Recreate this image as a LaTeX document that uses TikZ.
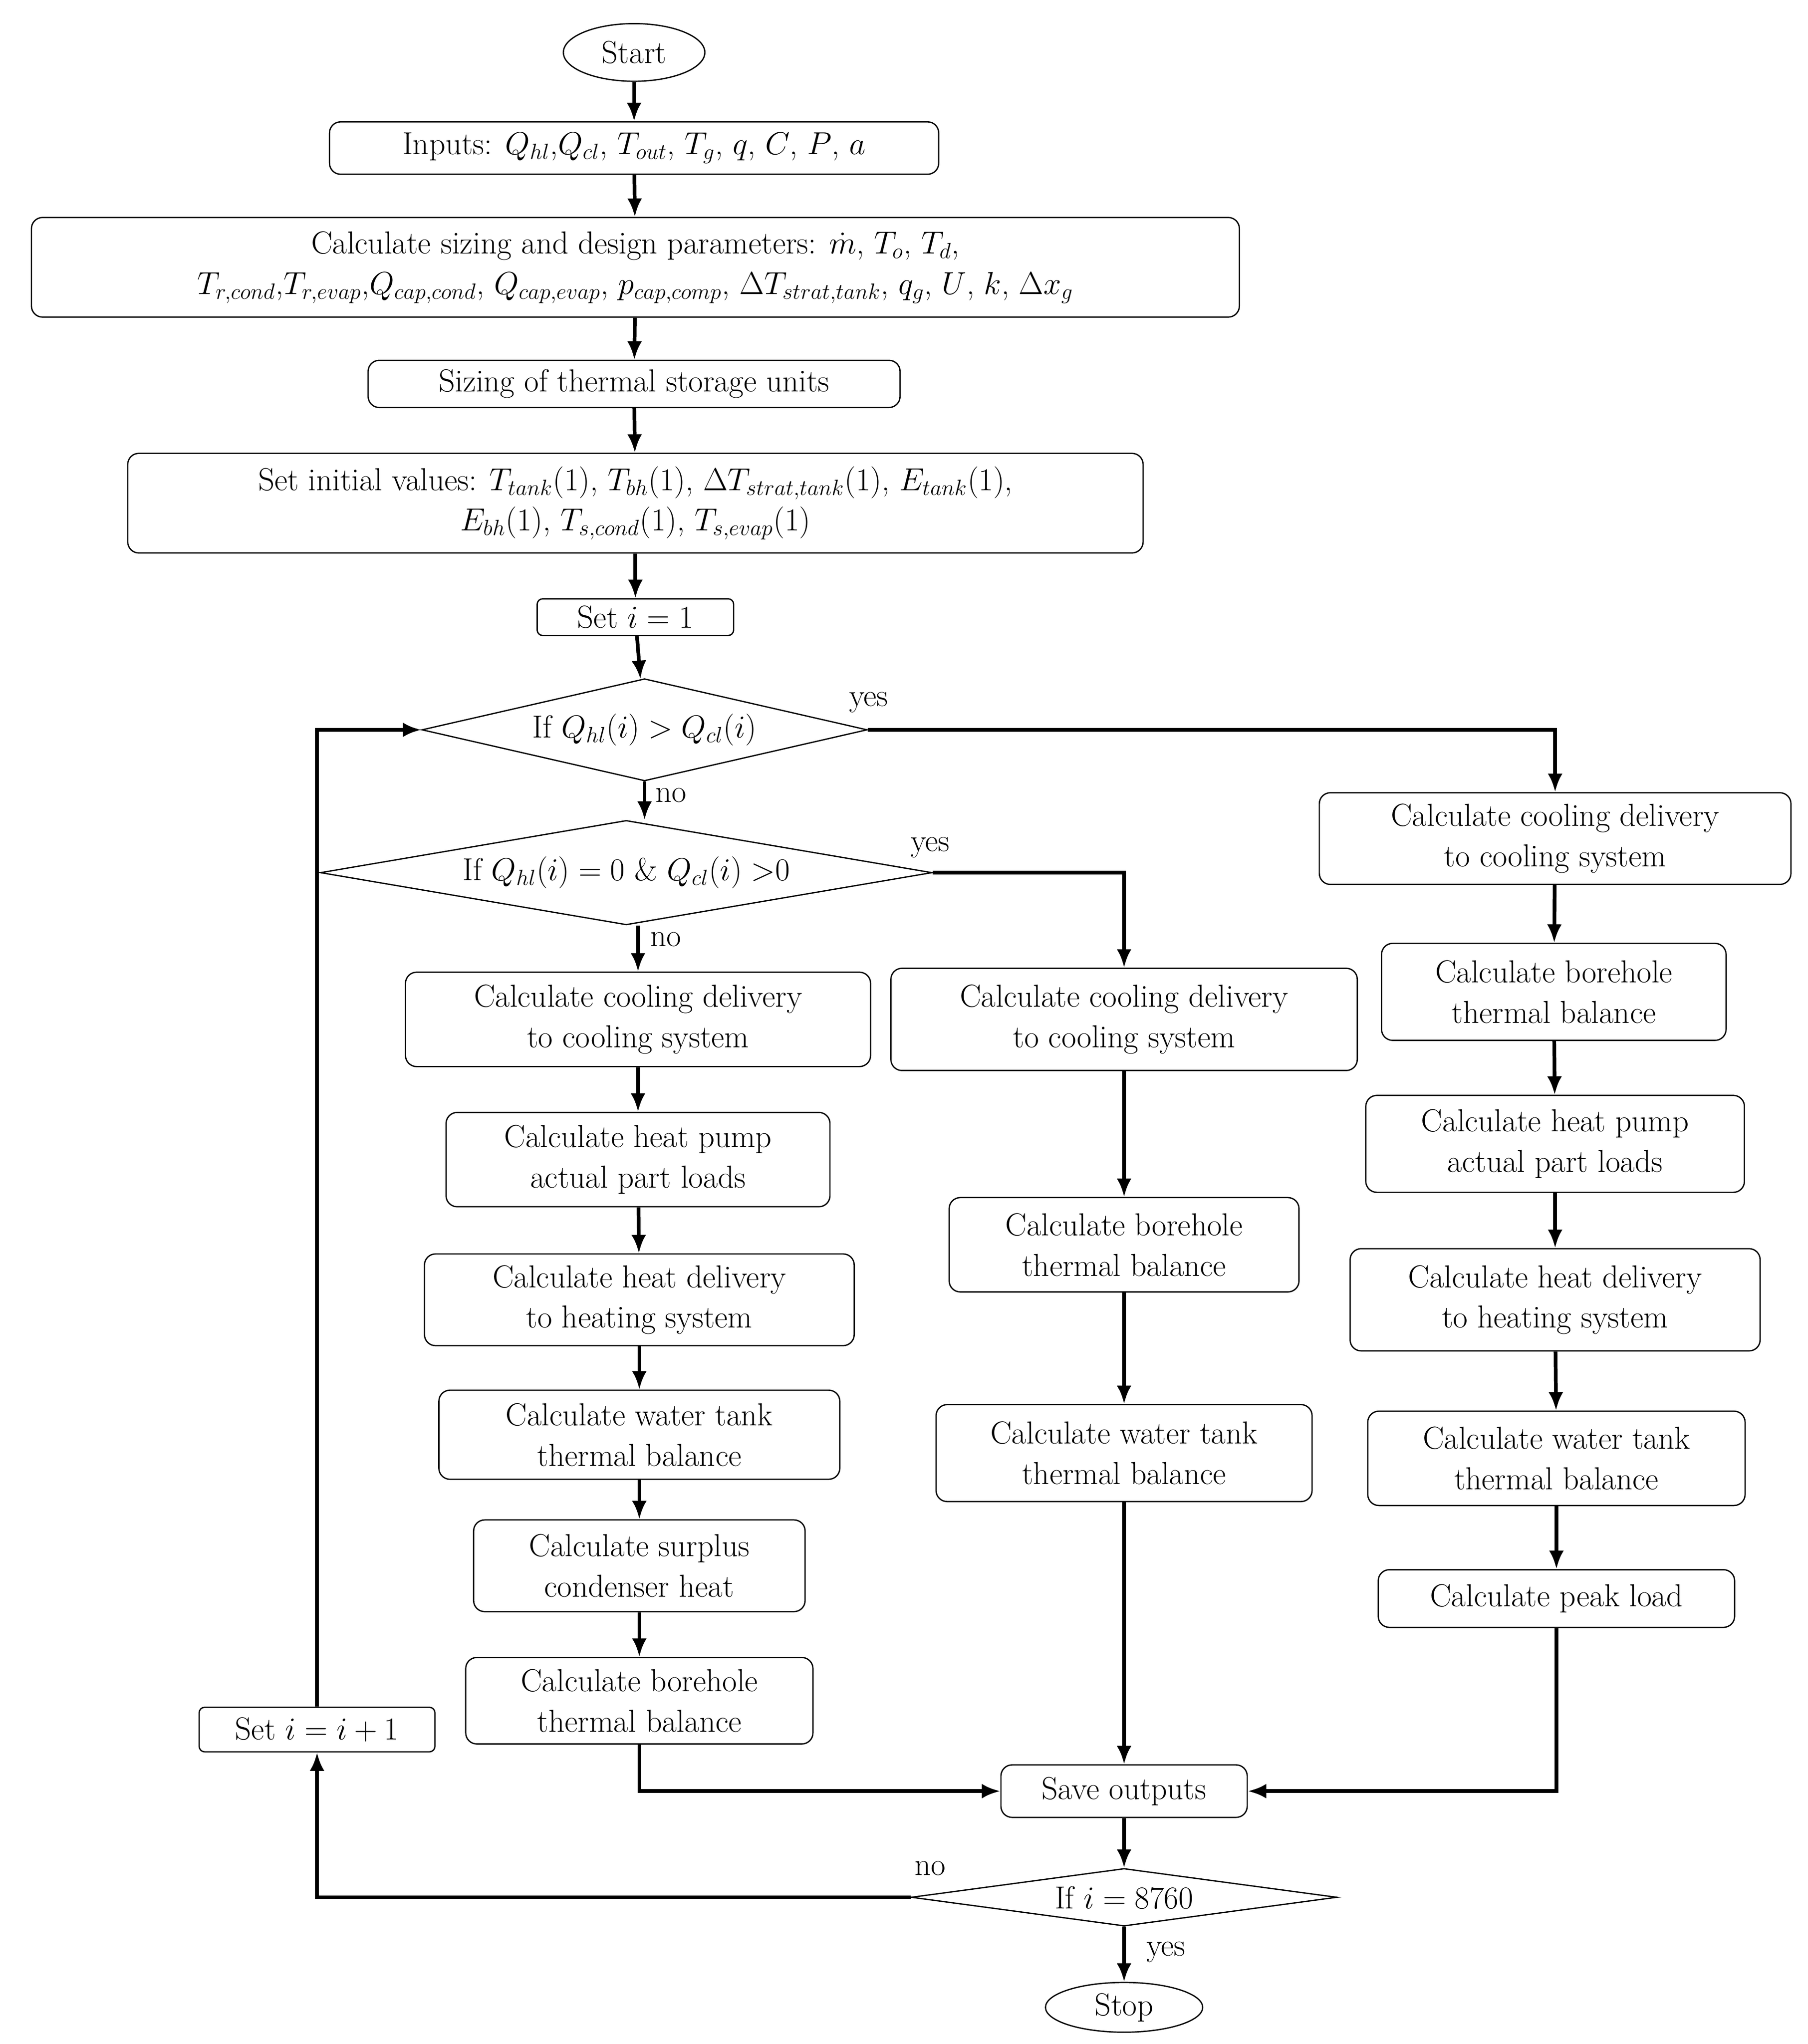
\documentclass[tikz,border=0pt]{standalone}
\usepackage{amsmath}
\usepackage{tikz}
\usetikzlibrary{positioning,arrows.meta,shapes.geometric}
\newdimen\px
\px=0.025cm
\tikzset{
  box/.style={rectangle, rounded corners=6pt, draw, line width=0.7pt, align=center, inner sep=2pt, font=\LARGE},
  term/.style={ellipse, draw, line width=0.7pt, inner sep=1pt, font=\LARGE},
  cond/.style={diamond, draw, line width=0.7pt, inner sep=0pt, aspect=4.5, font=\LARGE},
  flow/.style={line width=2pt, -{Latex[length=10pt,width=8pt]}},
  lab/.style={font=\LARGE}
}
\begin{document}
\begin{tikzpicture}[x=0.025cm, y=-0.025cm]
  \useasboundingbox (0,0) rectangle (1380,1560);
  % main chain
  \node[term, minimum width=108\px, minimum height=44\px] (start) at (484,40) {Start};
  \node[box, minimum width=465\px, minimum height=40\px] (inputs) at (484,113) {Inputs: $Q_{hl}$,$Q_{cl}$, $T_{out}$, $T_g$, $q$, $C$, $P$, $a$};
  \node[box, minimum width=922\px, minimum height=76\px] (design) at (485,204) {Calculate sizing and design parameters: $\dot{m}$, $T_o$, $T_d$,\\ $T_{r,cond}$,$T_{r,evap}$,$Q_{cap,cond}$, $Q_{cap,evap}$, $p_{cap,comp}$, $\Delta T_{strat,tank}$, $q_g$, $U$, $k$, $\Delta x_g$};
  \node[box, minimum width=406\px, minimum height=36\px] (sizing) at (484,293) {Sizing of thermal storage units};
  \node[box, minimum width=775\px, minimum height=76\px] (init) at (485,384) {Set initial values: $T_{tank}(1)$, $T_{bh}(1)$, $\Delta T_{strat,tank}(1)$, $E_{tank}(1)$,\\ $E_{bh}(1)$, $T_{s,cond}(1)$, $T_{s,evap}(1)$};
  \node[box, rounded corners=3pt, minimum width=150\px, minimum height=28\px] (setone) at (485,471) {Set $i=1$};
  \node[cond, minimum width=340\px, minimum height=78\px] (heat) at (492,557) {If $Q_{hl}(i)>Q_{cl}(i)$};
  \node[cond, minimum width=467\px, minimum height=74\px] (cool) at (478,666) {If $Q_{hl}(i)=0$ \& $Q_{cl}(i)>$0};
  % left column
  \node[box, minimum width=355\px, minimum height=72\px] (lcool) at (487,778) {Calculate cooling delivery\\to cooling system};
  \node[box, minimum width=293\px, minimum height=72\px] (lpump) at (487,885) {Calculate heat pump\\actual part loads};
  \node[box, minimum width=328\px, minimum height=70\px] (lheat) at (488,992) {Calculate heat delivery\\to heating system};
  \node[box, minimum width=306\px, minimum height=68\px] (ltank) at (488,1095) {Calculate water tank\\thermal balance};
  \node[box, minimum width=253\px, minimum height=70\px] (lsurp) at (488,1195) {Calculate surplus\\condenser heat};
  \node[box, minimum width=265\px, minimum height=66\px] (lbore) at (488,1298) {Calculate borehole\\thermal balance};
  % middle column
  \node[box, minimum width=356\px, minimum height=78\px] (mcool) at (858,778) {Calculate cooling delivery\\to cooling system};
  \node[box, minimum width=267\px, minimum height=72\px] (mbore) at (858,950) {Calculate borehole\\thermal balance};
  \node[box, minimum width=287\px, minimum height=74\px] (mtank) at (858,1109) {Calculate water tank\\thermal balance};
  % right column
  \node[box, minimum width=360\px, minimum height=70\px] (rcool) at (1187,640) {Calculate cooling delivery\\to cooling system};
  \node[box, minimum width=263\px, minimum height=74\px] (rbore) at (1186,757) {Calculate borehole\\thermal balance};
  \node[box, minimum width=289\px, minimum height=74\px] (rpump) at (1187,873) {Calculate heat pump\\actual part loads};
  \node[box, minimum width=313\px, minimum height=78\px] (rheat) at (1187,992) {Calculate heat delivery\\to heating system};
  \node[box, minimum width=288\px, minimum height=72\px] (rtank) at (1188,1113) {Calculate water tank\\thermal balance};
  \node[box, minimum width=272\px, minimum height=44\px] (rpeak) at (1188,1220) {Calculate peak load};
  % bottom
  \node[box, minimum width=188\px, minimum height=40\px] (save) at (858,1367) {Save outputs};
  \node[cond, minimum width=325\px, minimum height=44\px, aspect=7] (last) at (858,1448) {If $i=8760$};
  \node[term, minimum width=120\px, minimum height=38\px] (stop) at (858,1532) {Stop};
  \node[box, rounded corners=3pt, minimum width=180\px, minimum height=34\px] (incr) at (242,1320) {Set $i=i+1$};

  \draw[flow] (start) -- (inputs);
  \draw[flow] (inputs) -- (design);
  \draw[flow] (design) -- (sizing);
  \draw[flow] (sizing) -- (init);
  \draw[flow] (init) -- (setone);
  \draw[flow] (setone) -- (heat);
  \draw[flow] (heat.south) -- (cool.north -| heat.south);
  \draw[flow] (heat.east) -| (rcool.north);
  \draw[flow] (cool.south -| lcool.north) -- (lcool.north);
  \draw[flow] (cool.east) -| (mcool.north);
  \draw[flow] (lcool) -- (lpump);
  \draw[flow] (lpump) -- (lheat);
  \draw[flow] (lheat) -- (ltank);
  \draw[flow] (ltank) -- (lsurp);
  \draw[flow] (lsurp) -- (lbore);
  \draw[flow] (mcool) -- (mbore);
  \draw[flow] (mbore) -- (mtank);
  \draw[flow] (mtank) -- (save);
  \draw[flow] (rcool) -- (rbore);
  \draw[flow] (rbore) -- (rpump);
  \draw[flow] (rpump) -- (rheat);
  \draw[flow] (rheat) -- (rtank);
  \draw[flow] (rtank) -- (rpeak);
  \draw[flow] (lbore.south) |- (save.west);
  \draw[flow] (rpeak.south) |- (save.east);
  \draw[flow] (save) -- (last);
  \draw[flow] (last) -- (stop);
  \draw[flow] (last.west) -| (incr.south);
  \draw[flow] (incr.north) |- (heat.west);

  \node[lab] at (663,536) {yes};
  \node[lab] at (512,607) {no};
  \node[lab] at (710,647) {yes};
  \node[lab] at (508,717) {no};
  \node[lab] at (710,1426) {no};
  \node[lab] at (890,1490) {yes};
\end{tikzpicture}
\end{document}
